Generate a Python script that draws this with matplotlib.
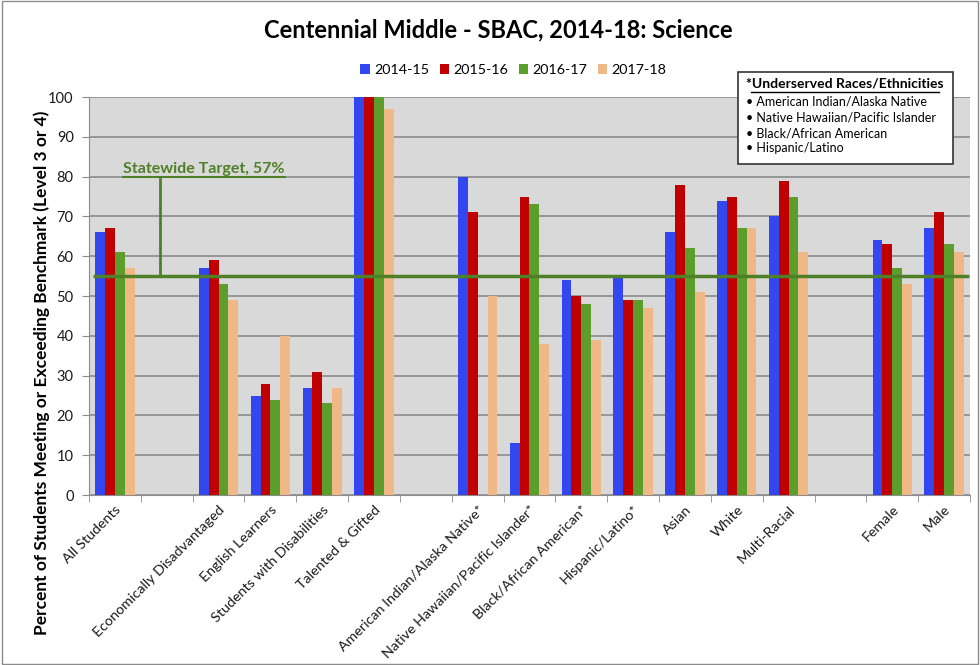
import numpy as np
import matplotlib.pyplot as plt
from matplotlib.patches import Rectangle

plt.rcParams["font.family"] = ["Lato", "DejaVu Sans"]

# blank entries are the empty spacer slots of the original chart
categories = [
    "All Students", "",
    "Economically Disadvantaged", "English Learners",
    "Students with Disabilities", "Talented & Gifted", "",
    "American Indian/Alaska Native*", "Native Hawaiian/Pacific Islander*",
    "Black/African American*", "Hispanic/Latino*",
    "Asian", "White", "Multi-Racial", "",
    "Female", "Male",
]
years = ["2014-15", "2015-16", "2016-17", "2017-18"]
nan = np.nan
y2014 = [66, nan, 57, 25, 27, 100, nan, 80, 13, 54, 55, 66, 74, 70, nan, 64, 67]
y2015 = [67, nan, 59, 28, 31, 100, nan, 71, 75, 50, 49, 78, 75, 79, nan, 63, 71]
y2016 = [61, nan, 53, 24, 23, 100, nan, nan, 73, 48, 49, 62, 67, 75, nan, 57, 63]
y2017 = [57, nan, 49, 40, 27, 97, nan, 50, 38, 39, 47, 51, 67, 61, nan, 53, 61]
series = [y2014, y2015, y2016, y2017]
target_line = 55
target_label = "Statewide Target, 57%"
note_title = "*Underserved Races/Ethnicities"
note_items = [
    "American Indian/Alaska Native",
    "Native Hawaiian/Pacific Islander",
    "Black/African American",
    "Hispanic/Latino",
]

colors = ["#3347F0", "#C00000", "#5C9E2C", "#F0B886"]
green = "#4E8028"

fig = plt.figure(figsize=(9.8, 6.65), dpi=100)
ax = fig.add_axes([0.0908, 0.2556, 0.8990, 0.5985])
ax.set_facecolor("#D9D9D9")

x = np.arange(len(categories))
width = 0.19
for i, (vals, c, lab) in enumerate(zip(series, colors, years)):
    ax.bar(x + (i - 1.5) * width, np.array(vals, dtype=float), width,
           color=c, label=lab, zorder=3)

ax.set_xlim(-0.5, len(categories) - 0.5)
ax.set_ylim(0, 100)
ax.set_yticks(np.arange(0, 101, 10))
ax.yaxis.grid(True, color="#8C8C8C", linewidth=1.2, zorder=0)
ax.set_axisbelow(True)

ax.set_xticks(x)
ax.set_xticklabels(categories, rotation=45, ha="right", rotation_mode="anchor",
                   fontsize=10.3, color="#1a1a1a")
ax.set_xticks(np.arange(-0.5, len(categories)), minor=True)
ax.tick_params(axis="x", which="major", length=0, pad=6)
ax.tick_params(axis="x", which="minor", length=5, color="#8C8C8C")
ax.tick_params(axis="y", length=5, color="#8C8C8C", labelsize=10.5,
               labelcolor="#1a1a1a", pad=6)
for s in ["top", "right"]:
    ax.spines[s].set_visible(False)
for s in ["left", "bottom"]:
    ax.spines[s].set_color("#8C8C8C")

# statewide target line and its label
ax.plot([-0.43, len(categories) - 0.52], [target_line, target_line],
        color=green, linewidth=2.5, zorder=4, solid_capstyle="butt")
ax.plot([0.87, 0.87], [target_line, 80], color=green, linewidth=2, zorder=4)
ax.plot([0.16, 3.28], [80, 80], color=green, linewidth=1.5, zorder=4)
ax.text(0.16, 80.9, target_label, color=green, fontsize=11.5,
        fontweight="bold", ha="left", va="baseline", zorder=5)

fig.text(0.508, 0.955, "Centennial Middle - SBAC, 2014-18: Science",
         ha="center", va="center", fontsize=17, fontweight="bold")
fig.text(0.043, 0.44,
         "Percent of Students Meeting or Exceeding Benchmark (Level 3 or 4)",
         rotation=90, ha="center", va="center", fontsize=12.5, fontweight="bold")

ax.legend(loc="center", bbox_to_anchor=(0.482, 1.068), ncol=4, frameon=False,
          fontsize=10.3, handlelength=0.65, handleheight=0.65,
          handletextpad=0.3, columnspacing=0.75)

# note box with the underserved groups
fig.patches.append(Rectangle((738 / 980, 1 - 164 / 665), 215 / 980, 92 / 665,
                             transform=fig.transFigure, facecolor="white",
                             edgecolor="#333333", linewidth=1.2, zorder=10))
fig.text(845 / 980, 1 - 84 / 665, note_title, ha="center", va="center",
         fontsize=10, fontweight="bold", zorder=11)
fig.add_artist(plt.Line2D([751 / 980, 939 / 980], [1 - 92 / 665, 1 - 92 / 665],
                          transform=fig.transFigure, color="black",
                          linewidth=1, zorder=11))
for k, item in enumerate(note_items):
    fig.text(746 / 980, 1 - (102 + 15.5 * k) / 665, "\u2022 " + item,
             ha="left", va="center", fontsize=9, zorder=11)

# outer chart frame
fig.patches.append(Rectangle((0.002, 0.002), 0.996, 0.996,
                             transform=fig.transFigure, facecolor="none",
                             edgecolor="#8C8C8C", linewidth=1))

fig.savefig("out.png", dpi=100)
